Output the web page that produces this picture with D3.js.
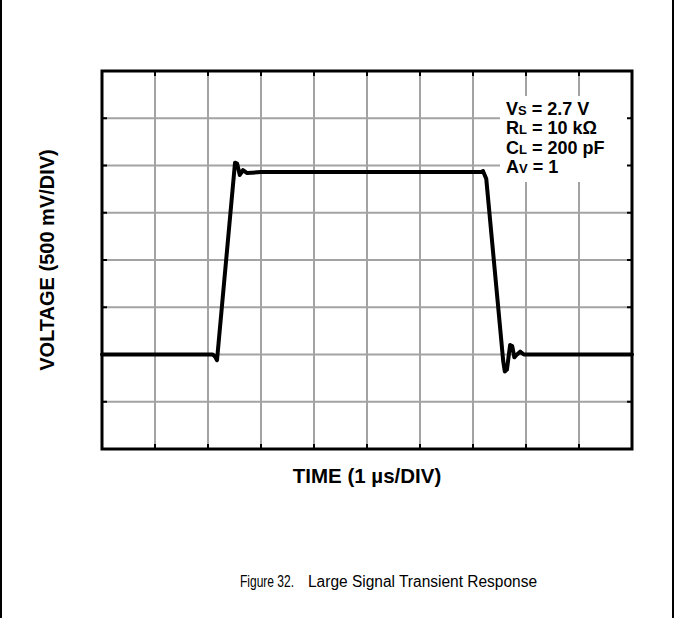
<!DOCTYPE html>
<html><head><meta charset="utf-8">
<script src="https://cdn.jsdelivr.net/npm/d3@7"></script>
<style>html,body{margin:0;padding:0;background:#fff;}svg{display:block;}</style>
</head><body>
<svg id="c" width="675" height="618"></svg>
<script>
// Data (time in µs, voltage in V; 1 µs/DIV, 500 mV/DIV)
const timeUs = [0, 2.09, 2.13, 2.17, 2.51, 2.55, 2.60, 2.66, 2.74, 3.0, 7.15, 7.19, 7.25, 7.57, 7.60, 7.64, 7.70, 7.74, 7.78, 7.83, 7.89, 7.96, 10];
const voltV  = [1.0, 1.0, 0.98, 0.94, 3.03, 3.02, 2.90, 2.95, 2.92, 2.93, 2.93, 2.94, 2.86, 0.93, 0.82, 0.84, 1.10, 1.09, 0.97, 1.0, 1.03, 1.0, 1.0];
const xTicks = [0,1,2,3,4,5,6,7,8,9,10];
const yTicks = [0,0.5,1,1.5,2,2.5,3,3.5,4];
const xLabel = "TIME (1 µs/DIV)";
const yLabel = "VOLTAGE (500 mV/DIV)";
const notes = [["V","S"," = 2.7 V"],["R","L"," = 10 kΩ"],["C","L"," = 200 pF"],["A","V"," = 1"]];
const captionNum = "Figure 32.";
const captionText = "Large Signal Transient Response";

const svg = d3.select("#c");
const L = 102, R = 632, T = 71, B = 449;
const x = d3.scaleLinear().domain([0,10]).range([L,R]);
const y = d3.scaleLinear().domain([0,4]).range([B,T]);
const FONT = "Liberation Sans, Arial, Helvetica, sans-serif";

// page side rules
svg.append("line").attr("x1",1).attr("x2",1).attr("y1",0).attr("y2",618).attr("stroke","#000").attr("stroke-width",2);
svg.append("line").attr("x1",673).attr("x2",673).attr("y1",0).attr("y2",618).attr("stroke","#000").attr("stroke-width",2);

// grid
const g = svg.append("g");
g.selectAll(".vg").data(xTicks.slice(1,-1)).join("line")
  .attr("x1",d=>x(d)).attr("x2",d=>x(d)).attr("y1",T).attr("y2",B)
  .attr("stroke","#a3a3a3").attr("stroke-width",2);
g.selectAll(".hg").data(yTicks.slice(1,-1)).join("line")
  .attr("x1",L).attr("x2",R).attr("y1",d=>y(d)).attr("y2",d=>y(d))
  .attr("stroke","#a3a3a3").attr("stroke-width",2);

// annotation box
svg.append("rect").attr("x",500).attr("y",96).attr("width",R-500).attr("height",86).attr("fill","#fff");

// ticks on all sides
const tk = 5;
xTicks.slice(1,-1).forEach(d=>{
  svg.append("line").attr("x1",x(d)).attr("x2",x(d)).attr("y1",T).attr("y2",T+tk).attr("stroke","#000").attr("stroke-width",2);
  svg.append("line").attr("x1",x(d)).attr("x2",x(d)).attr("y1",B).attr("y2",B-tk).attr("stroke","#000").attr("stroke-width",2);
});
yTicks.slice(1,-1).forEach(d=>{
  svg.append("line").attr("x1",L).attr("x2",L+tk).attr("y1",y(d)).attr("y2",y(d)).attr("stroke","#000").attr("stroke-width",2);
  svg.append("line").attr("x1",R).attr("x2",R-tk).attr("y1",y(d)).attr("y2",y(d)).attr("stroke","#000").attr("stroke-width",2);
});

// frame
svg.append("rect").attr("x",L).attr("y",T).attr("width",R-L).attr("height",B-T)
  .attr("fill","none").attr("stroke","#000").attr("stroke-width",3);

// annotation text
const nt = svg.append("g").attr("font-family",FONT).attr("font-weight","bold").attr("fill","#000");
notes.forEach((n,i)=>{
  const t = nt.append("text").attr("x",506).attr("y",114.5+i*19.5).attr("font-size",18);
  t.append("tspan").text(n[0]);
  t.append("tspan").attr("font-size",13).text(n[1]);
  t.append("tspan").text(n[2]);
});

// waveform
const pts = timeUs.map((t,i)=>[t, voltV[i]]);
svg.append("path").datum(pts)
  .attr("d", d3.line().x(d=>x(d[0])).y(d=>y(d[1])))
  .attr("fill","none").attr("stroke","#000").attr("stroke-width",4)
  .attr("stroke-linejoin","round").attr("stroke-linecap","round");

// axis labels
svg.append("text").attr("x",(L+R)/2).attr("y",483).attr("text-anchor","middle")
  .attr("font-family",FONT).attr("font-weight","bold").attr("font-size",20.5).text(xLabel);
svg.append("text").attr("transform",`translate(54,${(T+B)/2}) rotate(-90)`).attr("text-anchor","middle")
  .attr("font-family",FONT).attr("font-weight","bold").attr("font-size",20).text(yLabel);

// caption (one text element, two runs)
const cap = svg.append("text").attr("y",587).attr("font-family",FONT).attr("font-size",16).attr("fill","#000");
cap.append("tspan").attr("x",240).attr("textLength",54).attr("lengthAdjust","spacingAndGlyphs").text(captionNum);
cap.append("tspan").attr("x",308).attr("textLength",229).attr("lengthAdjust","spacingAndGlyphs").text(captionText);
</script>
</body></html>
